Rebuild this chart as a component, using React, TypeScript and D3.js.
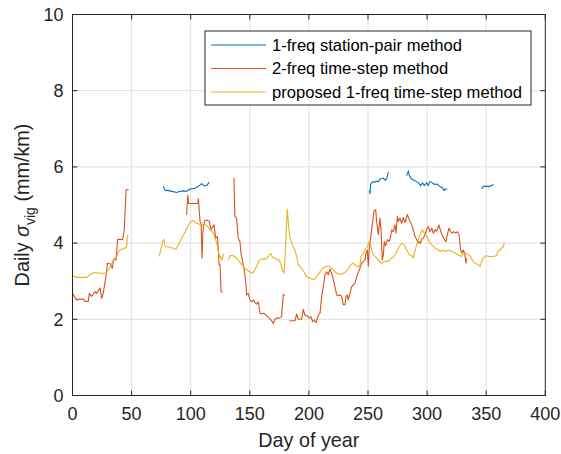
import React, { useEffect, useRef } from "react";
import * as d3 from "d3";

type Pt = [number, number];

const xTicks = [0, 50, 100, 150, 200, 250, 300, 350, 400];
const yTicks = [0, 2, 4, 6, 8, 10];

const seriesNames = [
  "1-freq station-pair method",
  "2-freq time-step method",
  "proposed 1-freq time-step method",
];
const seriesColors = ["#0072BD", "#D95319", "#EDB120"];

const GAP: Pt = [NaN, NaN];

// 1-freq station-pair method
const stationPair: Pt[] = [
  [76.9, 5.49], [78.3, 5.39], [82.5, 5.37], [88.2, 5.33], [91, 5.36], [93.8, 5.37], [96.6, 5.36],
  [99.4, 5.42], [103.7, 5.44], [106.5, 5.49], [109.3, 5.56], [111.3, 5.5], [113.5, 5.51], [115.8, 5.6],
  GAP,
  [251.1, 5.39], [251.7, 5.3], [252.2, 5.54], [253.9, 5.61], [255.9, 5.6], [257.3, 5.63], [258.7, 5.61],
  [260.1, 5.68], [261.5, 5.69], [263, 5.71], [264.4, 5.65], [265.8, 5.69], [267.2, 5.86],
  GAP,
  [282.7, 5.77], [284.1, 5.89], [285, 5.77], [286.9, 5.68], [288.9, 5.65], [290.6, 5.62], [292.6, 5.58],
  [294.5, 5.51], [296.2, 5.58], [297.6, 5.51], [299.6, 5.58], [301, 5.51], [302.4, 5.62], [304.4, 5.58],
  [306.7, 5.54], [308.1, 5.55], [310, 5.51], [311.5, 5.47], [312.9, 5.45], [314.3, 5.38], [315.7, 5.42],
  [317.1, 5.42],
  GAP,
  [346.2, 5.42], [347.6, 5.49], [350.4, 5.49], [353.2, 5.49], [354.7, 5.51], [356.1, 5.55],
];

// 2-freq time-step method
const twoFreq: Pt[] = [
  [0, 2.68], [3.5, 2.51], [6, 2.53], [9.2, 2.53], [10.6, 2.47], [13.4, 2.47], [14.2, 2.68], [16.2, 2.6],
  [19, 2.73], [20.4, 2.68], [23.3, 2.82], [24.7, 2.55], [26, 2.68], [28.3, 3.12], [29.5, 3.47],
  [32.3, 3.45], [33.7, 3.34], [35, 3.58], [36.8, 3.56], [38.2, 4.1], [42.4, 4.09], [43.8, 4.35],
  [45.3, 5.4], [47.5, 5.4],
  GAP,
  [96.6, 4.74], [97.5, 5.26], [98.2, 5.04], [106, 5.04], [106.5, 5.16], [107.9, 4.57], [108.8, 4.5],
  [109.6, 3.6], [110.3, 4.26], [110.9, 4.47], [112.1, 4.6], [114.1, 4.6], [115.8, 4.57], [117.2, 4.35],
  [119.7, 4.48], [121.2, 4.13], [122.6, 4.17], [123.4, 3.82], [124, 3.43], [124.8, 3.43], [125.7, 2.73],
  [127.1, 2.71],
  GAP,
  [136.6, 5.71], [137.4, 4.7], [138.8, 4.66], [140.2, 4.13], [141.7, 4.04], [142.5, 3.74], [143.9, 3.52],
  [145.3, 3.3], [146.7, 2.95], [147.3, 2.64], [148.7, 2.68], [150.1, 2.51], [151.5, 2.46], [153, 2.51],
  [154.4, 2.44], [155.8, 2.4], [157.2, 2.46], [158.6, 2.16], [160, 2.14], [161.4, 2.16], [162.8, 2.14],
  [164.2, 2.09], [166.5, 2.03], [168.5, 1.96], [169.9, 1.89], [171.3, 2.0], [172.7, 2.03], [175, 2.03],
  [176.9, 2.07], [178.3, 2.64], [179.7, 2.64],
  GAP,
  [183.4, 1.96], [188.2, 1.96], [189.6, 2.14], [191, 2.0], [193.8, 2.0], [195.2, 2.26], [196.6, 2.11],
  [198.6, 2.09], [200.3, 2.03], [201.7, 2.07], [203.1, 1.94], [204.5, 1.98], [206, 1.91], [208, 2.11],
  [209.4, 2.16], [210.8, 2.6], [212.2, 2.86], [213.6, 3.17], [215, 3.25], [216.4, 3.17], [217.8, 3.32],
  [219.2, 3.21], [220.6, 3.04], [222, 2.86], [223.5, 2.64], [224.9, 2.62], [226.3, 2.64], [227.7, 2.6],
  [229.1, 2.38], [230.5, 2.38], [231.4, 2.6], [232.5, 2.64], [233.3, 2.51], [234.7, 2.68], [236.2, 2.86],
  [237.6, 2.9], [239, 2.95], [240.4, 3.12], [241.8, 3.23], [243.2, 3.34], [244.6, 3.47], [246, 3.52],
  [247.4, 3.56], [248.3, 3.74], [249.4, 3.82], [250.3, 3.39], [251.1, 3.87], [252.2, 4.13], [253.6, 4.48],
  [255, 4.83], [256.5, 4.88], [257.3, 4.57], [258.7, 4.22], [260.1, 4.66], [261, 4.35], [262.1, 3.56],
  [263, 3.69], [263.8, 4.04], [265, 3.93], [266.3, 4.09], [268, 4.05], [269.1, 4.16], [270, 4.35],
  [271.4, 4.3], [272.8, 4.48], [273.7, 4.26], [274.8, 4.7], [275.7, 4.57], [277, 4.66], [278.5, 4.52],
  [279.9, 4.67], [281.3, 4.54], [283.3, 4.75], [285, 4.61], [286.9, 4.48], [288.3, 4.35], [289.7, 4.18],
  [291.2, 4.09], [292.6, 4.0], [293.4, 4.04], [294.5, 4.0], [295.4, 4.1], [296.8, 4.13], [298.2, 4.22],
  [299.6, 4.35], [301, 4.44], [302.4, 4.3], [303.9, 4.39], [305.3, 4.26], [306.7, 4.35], [308.1, 4.31],
  [310, 4.48], [311.5, 4.31], [313.2, 4.18], [314.6, 4.09], [316, 4.04], [317.1, 4.22], [318.5, 4.39],
  [319.9, 4.3], [321.3, 4.26], [322.7, 4.3], [324.2, 4.26], [325.6, 4.3], [327, 4.22], [328.4, 3.82],
  [329.5, 3.74], [330.6, 3.82], [331.8, 3.74], [332.9, 3.47], [333.5, 3.6],
];

// proposed 1-freq time-step method
const proposed: Pt[] = [
  [0, 3.14], [3.5, 3.1], [12, 3.1], [14.8, 3.17], [18.2, 3.23], [23.3, 3.21], [28.3, 3.21], [30.3, 3.3],
  [33.1, 3.43], [34.5, 3.56], [37.4, 3.65], [38.8, 3.78], [40.2, 3.82], [44.4, 3.87], [45.8, 3.91],
  [46.4, 4.19], [47.5, 4.21],
  GAP,
  [73.5, 3.65], [74.6, 3.82], [76.3, 4.04], [77.4, 4.1], [78.3, 3.91], [82.5, 3.89], [87.6, 3.84],
  [89.6, 3.96], [91, 4.04], [92.4, 4.13], [93.8, 4.22], [95.2, 4.28], [96.6, 4.37], [98, 4.46],
  [99.4, 4.53], [100.9, 4.57], [102.3, 4.6], [103.7, 4.54], [105.1, 4.52], [106.5, 4.51], [107.9, 4.48],
  [109.3, 4.5], [110.7, 4.46], [112.1, 4.48], [113.5, 4.46], [115, 4.42], [116.4, 4.35], [117.8, 4.31],
  [119.2, 4.26], [120.6, 4.13], [122, 4.0], [122.9, 3.87], [123.7, 3.74], [124.8, 3.61], [125.4, 3.65],
  [126.2, 3.56], [127, 3.61], [127.9, 3.72],
  GAP,
  [131.9, 3.56], [133.3, 3.67], [136, 3.67], [138.8, 3.61], [141.7, 3.49], [144.5, 3.39], [147.3, 3.3],
  [150.1, 3.24], [152.4, 3.21], [154.4, 3.3], [156.3, 3.43], [158, 3.54], [160, 3.58], [163, 3.58],
  [164.8, 3.61], [166.5, 3.69], [167.9, 3.72], [169.3, 3.63], [171.3, 3.61], [173.2, 3.56], [175, 3.56],
  [176.3, 3.43], [177.8, 3.28], [178.9, 3.21], [179.7, 3.56], [180.6, 4.18], [181.7, 4.89], [182.8, 4.44],
  [184, 4.13], [185.4, 4.02], [186.8, 3.91], [188.2, 3.81], [189.6, 3.65], [191, 3.43], [192.4, 3.39],
  [193.8, 3.34], [195.2, 3.28], [198.1, 3.12], [200.9, 3.08], [203.7, 3.04], [205.2, 3.06], [207.1, 3.14],
  [209.4, 3.25], [211.6, 3.34], [214.4, 3.39], [217.2, 3.39], [219.2, 3.34], [222, 3.25], [224.9, 3.19],
  [227.7, 3.19], [230.5, 3.23], [233.3, 3.32], [235.3, 3.43], [237, 3.47], [239, 3.43], [241, 3.39],
  [243.2, 3.39], [244, 3.65], [246, 3.74], [247.4, 3.82], [249.4, 3.91], [251.1, 4.04], [252, 4.0],
  [253.1, 3.82], [254.5, 3.69], [256.7, 3.63], [258.7, 3.56], [260.7, 3.47], [262.4, 3.49], [264.4, 3.52],
  [267.2, 3.52], [270, 3.61], [271.4, 3.63], [273.7, 3.74], [275.7, 3.87], [278.5, 4.0], [280.4, 3.96],
  [282.7, 3.82], [285, 3.69], [286.9, 3.67], [288.3, 3.61], [289.7, 3.78], [291.2, 3.96], [292.6, 4.09],
  [294.5, 4.26], [296, 4.35], [297.6, 4.26], [299.6, 4.18], [301.9, 4.04], [303.9, 3.96], [306.7, 3.87],
  [309.5, 3.82], [311.5, 3.78], [313.7, 3.81], [316, 3.78], [318, 3.82], [320.8, 3.78], [323.6, 3.74],
  [326.4, 3.69], [329.2, 3.65], [330.6, 3.74], [333.5, 3.72], [336.3, 3.67], [337.7, 3.58], [340.6, 3.47],
  [343.4, 3.43], [344.8, 3.39], [346.2, 3.52], [347.6, 3.61], [349.6, 3.67], [352.4, 3.65], [355.3, 3.65],
  [358.9, 3.67], [359.7, 3.78], [361.7, 3.81], [363.1, 3.87], [364.5, 3.91], [365.4, 4.02],
];

const allSeries = [stationPair, twoFreq, proposed];

const W = 561;
const H = 454;
const L = 72.5;
const R = 545.3;
const T = 14.5;
const B = 395.5;
const FONT = "'Liberation Sans', Arial, Helvetica, sans-serif";
const AX = "#262626";

export default function App() {
  const ref = useRef<SVGSVGElement>(null);

  useEffect(() => {
    const svg = d3.select(ref.current);
    svg.selectAll("*").remove();

    const x = d3.scaleLinear().domain([0, 400]).range([L, R]);
    const y = d3.scaleLinear().domain([0, 10]).range([B, T]);

    svg.append("rect").attr("x", 0).attr("y", 0).attr("width", W).attr("height", H).attr("fill", "#fff");

    const grid = svg.append("g").attr("stroke", "#dfdfdf").attr("stroke-width", 1);
    xTicks.forEach((t) => {
      if (t === 0 || t === 400) return;
      grid.append("line").attr("x1", x(t)).attr("x2", x(t)).attr("y1", T).attr("y2", B);
    });
    yTicks.forEach((t) => {
      if (t === 0 || t === 10) return;
      grid.append("line").attr("x1", L).attr("x2", R).attr("y1", y(t)).attr("y2", y(t));
    });

    const line = d3
      .line<Pt>()
      .defined((d) => !isNaN(d[1]))
      .x((d) => x(d[0]))
      .y((d) => y(d[1]));

    allSeries.forEach((s, i) => {
      svg
        .append("path")
        .datum(s)
        .attr("d", line)
        .attr("fill", "none")
        .attr("stroke", seriesColors[i])
        .attr("stroke-width", 1.1)
        .attr("stroke-linejoin", "round");
    });

    // box
    svg
      .append("rect")
      .attr("x", L)
      .attr("y", T)
      .attr("width", R - L)
      .attr("height", B - T)
      .attr("fill", "none")
      .attr("stroke", AX)
      .attr("stroke-width", 1);

    const tk = svg.append("g").attr("stroke", AX).attr("stroke-width", 1);
    const tl = 5;
    xTicks.forEach((t) => {
      tk.append("line").attr("x1", x(t)).attr("x2", x(t)).attr("y1", B).attr("y2", B - tl);
      tk.append("line").attr("x1", x(t)).attr("x2", x(t)).attr("y1", T).attr("y2", T + tl);
    });
    yTicks.forEach((t) => {
      tk.append("line").attr("x1", L).attr("x2", L + tl).attr("y1", y(t)).attr("y2", y(t));
      tk.append("line").attr("x1", R).attr("x2", R - tl).attr("y1", y(t)).attr("y2", y(t));
    });

    const lab = svg.append("g").attr("font-family", FONT).attr("fill", AX).attr("font-size", 18);
    xTicks.forEach((t) => {
      lab.append("text").attr("x", x(t)).attr("y", 420).attr("text-anchor", "middle").text(String(t));
    });
    yTicks.forEach((t) => {
      lab
        .append("text")
        .attr("x", L - 9)
        .attr("y", y(t) + 6.3)
        .attr("text-anchor", "end")
        .text(String(t));
    });

    svg
      .append("text")
      .attr("x", (L + R) / 2)
      .attr("y", 447)
      .attr("text-anchor", "middle")
      .attr("font-family", FONT)
      .attr("font-size", 19.8)
      .attr("fill", AX)
      .text("Day of year");

    const yl = svg
      .append("text")
      .attr("transform", `translate(29,${(T + B) / 2}) rotate(-90)`)
      .attr("text-anchor", "middle")
      .attr("font-family", FONT)
      .attr("font-size", 19.8)
      .attr("fill", AX);
    yl.append("tspan").text("Daily ");
    yl.append("tspan").attr("font-style", "italic").text("σ");
    yl.append("tspan").attr("font-size", 14).attr("dy", 5.5).text("vig");
    yl.append("tspan").attr("dy", -5.5).text(" (mm/km)");

    // legend
    const lg = svg.append("g");
    lg.append("rect")
      .attr("x", 205)
      .attr("y", 31)
      .attr("width", 326)
      .attr("height", 74)
      .attr("fill", "#fff")
      .attr("stroke", AX)
      .attr("stroke-width", 1);
    const rows = [45, 68.5, 92];
    seriesNames.forEach((n, i) => {
      lg.append("line")
        .attr("x1", 211)
        .attr("x2", 266)
        .attr("y1", rows[i])
        .attr("y2", rows[i])
        .attr("stroke", seriesColors[i])
        .attr("stroke-width", 1.1);
      lg.append("text")
        .attr("x", 272)
        .attr("y", rows[i] + 5.9)
        .attr("font-family", FONT)
        .attr("font-size", 16.6)
        .attr("fill", "#000")
        .text(n);
    });
  }, []);

  return (
    <svg
      ref={ref}
      width={W}
      height={H}
      style={{ position: "absolute", left: 0, top: 0, display: "block" }}
    />
  );
}
